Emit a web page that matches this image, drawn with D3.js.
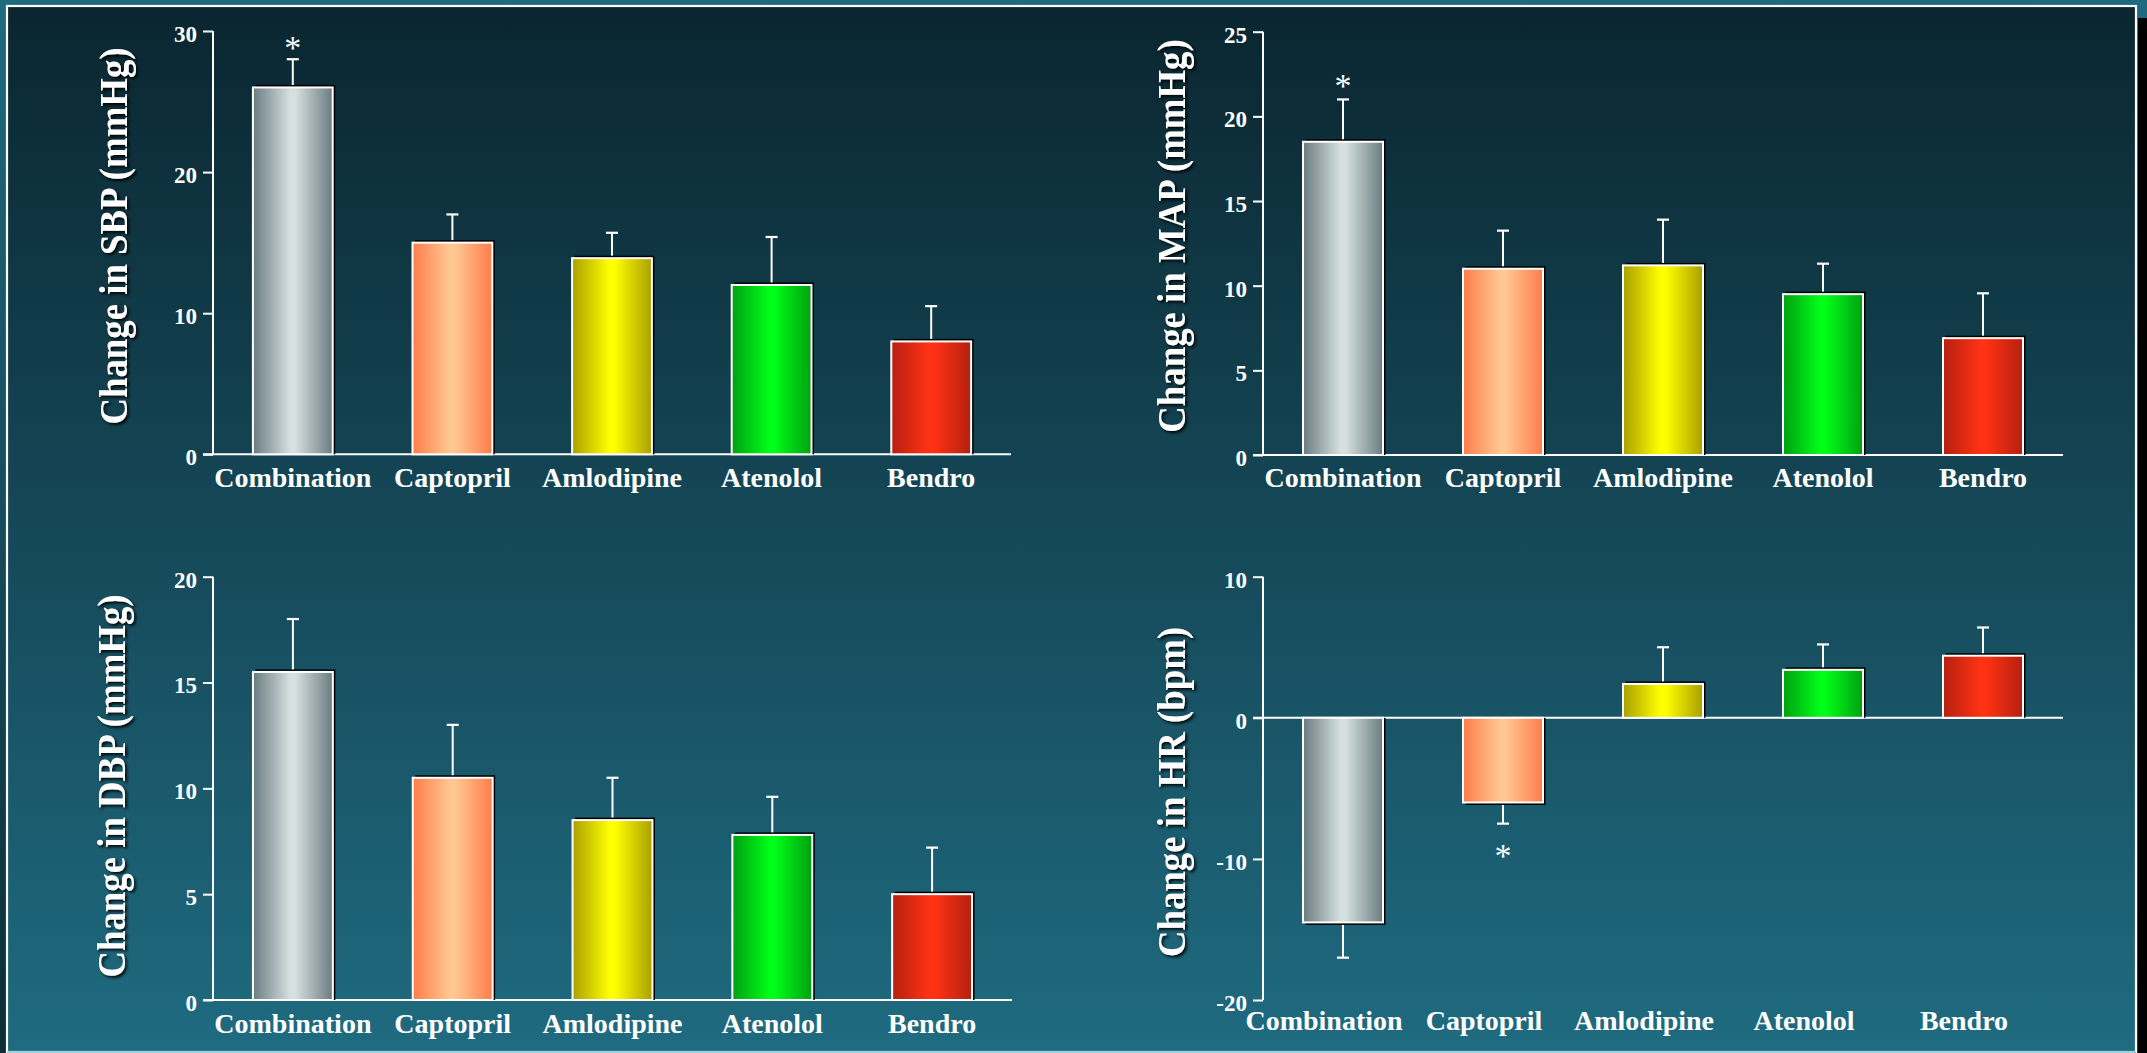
<!DOCTYPE html>
<html>
<head>
<meta charset="utf-8">
<script src="https://cdn.jsdelivr.net/npm/d3@7"></script>
<style>
  html, body { margin: 0; padding: 0; overflow: hidden; background: #0c2c35; }
  svg { display: block; }
  text { font-family: "Liberation Serif", "Times New Roman", serif; }
</style>
</head>
<body>
<svg id="chart" width="2147" height="1053"></svg>
<script>
// ---- data ----------------------------------------------------------------
const categories = ["Combination", "Captopril", "Amlodipine", "Atenolol", "Bendro"];

// mean change and SEM for each treatment
const sbpMean = [26, 15, 13.9, 12, 8];
const sbpSem  = [2, 2, 1.8, 3.4, 2.5];
const mapMean = [18.5, 11, 11.2, 9.5, 6.9];
const mapSem  = [2.5, 2.25, 2.7, 1.8, 2.65];
const dbpMean = [15.5, 10.5, 8.5, 7.8, 5.0];
const dbpSem  = [2.5, 2.5, 2.0, 1.8, 2.2];
const hrMean  = [-14.5, -6, 2.4, 3.4, 4.4];
const hrSem   = [2.5, 1.5, 2.6, 1.8, 2.0];

// axis ticks
const sbpTicks = [0, 10, 20, 30];
const mapTicks = [0, 5, 10, 15, 20, 25];
const dbpTicks = [0, 5, 10, 15, 20];
const hrTicks  = [-20, -10, 0, 10];

// significance markers: [category, y position in data units]
const sbpStars = [["Combination", 29.1]];
const mapStars = [["Combination", 22.05]];
const dbpStars = [];
const hrStars  = [["Captopril", -9.5]];

// bar colours: edge shade and centre highlight
const barEdge   = ["#6a7c81", "#ff7c4c", "#a9a000", "#00a010", "#b52010"];
const barCentre = ["#d6e0e0", "#ffc892", "#ffff00", "#00ff18", "#ff3214"];

// ---- drawing ---------------------------------------------------------------
const W = 2147, H = 1053;
const svg = d3.select("#chart");
const defs = svg.append("defs");

// page backdrop and framed panel
const outerGrad = defs.append("linearGradient").attr("id", "outerBg")
  .attr("x1", 0).attr("y1", 0).attr("x2", 0).attr("y2", 1);
outerGrad.append("stop").attr("offset", 0).attr("stop-color", "#1f6a7f");
outerGrad.append("stop").attr("offset", 1).attr("stop-color", "#0c2d36");

const innerGrad = defs.append("linearGradient").attr("id", "innerBg")
  .attr("x1", 0).attr("y1", 0).attr("x2", 0).attr("y2", 1);
innerGrad.append("stop").attr("offset", 0).attr("stop-color", "#0a2630");
innerGrad.append("stop").attr("offset", 0.5).attr("stop-color", "#154858");
innerGrad.append("stop").attr("offset", 1).attr("stop-color", "#1f6b80");

categories.forEach((c, i) => {
  const g = defs.append("linearGradient").attr("id", "bar" + i)
    .attr("x1", 0).attr("y1", 0).attr("x2", 1).attr("y2", 0);
  g.append("stop").attr("offset", 0).attr("stop-color", barEdge[i]);
  g.append("stop").attr("offset", 0.47).attr("stop-color", barCentre[i]);
  g.append("stop").attr("offset", 0.53).attr("stop-color", barCentre[i]);
  g.append("stop").attr("offset", 1).attr("stop-color", barEdge[i]);
});

const shadow = defs.append("filter").attr("id", "titleShadow")
  .attr("x", "-20%").attr("y", "-20%").attr("width", "140%").attr("height", "140%");
shadow.append("feDropShadow").attr("dx", 2).attr("dy", 2)
  .attr("stdDeviation", 1.4).attr("flood-color", "#000").attr("flood-opacity", 0.9);

svg.append("rect").attr("width", W).attr("height", H).attr("fill", "url(#outerBg)");
svg.append("rect").attr("x", 2138).attr("y", 18).attr("width", 9).attr("height", H - 18).attr("fill", "#000");
svg.append("rect").attr("x", 7).attr("y", 6).attr("width", 2129).attr("height", 1046)
  .attr("fill", "url(#innerBg)").attr("stroke", "#ffffff").attr("stroke-width", 2.2);
svg.append("line").attr("x1", 7).attr("x2", 2136).attr("y1", 1052).attr("y2", 1052)
  .attr("stroke", "#9fd0dc").attr("stroke-width", 2);

function drawPanel(cfg) {
  const { means, sems, ticks, stars, domain, xr, yr, title, titleX, titleY, labelY, labelShift } = cfg;
  const g = svg.append("g");

  const x = d3.scaleBand().domain(categories).range(xr).paddingInner(0.5).paddingOuter(0.25);
  const y = d3.scaleLinear().domain(domain).range(yr);

  // value axis (plain hyphen for negative numbers)
  const axis = d3.axisLeft(y).tickValues(ticks).tickSize(10).tickPadding(6).tickFormat(d => String(d));
  const ag = g.append("g").attr("transform", `translate(${xr[0]},0)`).call(axis);
  ag.select(".domain").attr("stroke", "#fff").attr("stroke-width", 2).attr("d", `M0,${yr[1]}V${yr[0]}`);
  ag.selectAll(".tick line").attr("stroke", "#fff").attr("stroke-width", 2);
  ag.selectAll(".tick text").attr("fill", "#fff").attr("font-size", 23).attr("font-weight", "bold")
    .attr("dy", "0.45em");

  // zero baseline
  g.append("line").attr("x1", xr[0] - 10).attr("x2", xr[1])
    .attr("y1", y(0)).attr("y2", y(0)).attr("stroke", "#fff").attr("stroke-width", 2);

  const rows = categories.map((c, i) => ({ c, i, v: means[i], s: sems[i] }));
  const bw = x.bandwidth();

  // error bars
  rows.forEach(d => {
    const end = d.v >= 0 ? d.v + d.s : d.v - d.s;
    const cx = x(d.c) + bw / 2;
    g.append("line").attr("x1", cx).attr("x2", cx).attr("y1", y(d.v)).attr("y2", y(end))
      .attr("stroke", "#fff").attr("stroke-width", 2);
    g.append("line").attr("x1", cx - 6).attr("x2", cx + 6).attr("y1", y(end)).attr("y2", y(end))
      .attr("stroke", "#fff").attr("stroke-width", 2.2);
  });

  // offset shadows behind the bars
  g.selectAll("rect.shade").data(rows).join("rect").attr("class", "shade")
    .attr("x", d => x(d.c) + 2.5)
    .attr("y", d => d.v >= 0 ? y(d.v) - 2.5 : y(0))
    .attr("width", bw)
    .attr("height", d => Math.abs(y(d.v) - y(0)) + 2.5)
    .attr("fill", "#000");

  // bars
  g.selectAll("rect.bar").data(rows).join("rect").attr("class", "bar")
    .attr("x", d => x(d.c))
    .attr("y", d => Math.min(y(d.v), y(0)))
    .attr("width", bw)
    .attr("height", d => Math.abs(y(d.v) - y(0)))
    .attr("fill", d => `url(#bar${d.i})`)
    .attr("stroke", "#fff").attr("stroke-width", 2);

  // significance markers
  stars.forEach(([c, v]) => {
    g.append("text").attr("x", x(c) + bw / 2).attr("y", y(v) + 15)
      .attr("text-anchor", "middle").attr("fill", "#fff").attr("font-size", 34)
      .text("*");
  });

  // category labels
  categories.forEach(c => {
    g.append("text").attr("x", x(c) + bw / 2 + labelShift).attr("y", labelY)
      .attr("text-anchor", "middle").attr("fill", "#fff").attr("font-size", 28)
      .attr("font-weight", "bold").text(c);
  });

  // axis title
  g.append("g").attr("filter", "url(#titleShadow)")
    .append("text")
    .attr("transform", `translate(${titleX},${titleY}) rotate(-90) scale(0.92,1)`)
    .attr("text-anchor", "middle").attr("fill", "#fff").attr("font-size", 40)
    .attr("font-weight", "bold").text(title);
}

drawPanel({ means: sbpMean, sems: sbpSem, ticks: sbpTicks, stars: sbpStars, domain: [0, 30],
  xr: [213, 1011], yr: [454.3, 31], title: "Change in SBP (mmHg)",
  titleX: 127, titleY: 236, labelY: 486.5, labelShift: 0 });
drawPanel({ means: mapMean, sems: mapSem, ticks: mapTicks, stars: mapStars, domain: [0, 25],
  xr: [1263, 2063], yr: [455, 31.7], title: "Change in MAP (mmHg)",
  titleX: 1185, titleY: 236, labelY: 486.5, labelShift: 0 });
drawPanel({ means: dbpMean, sems: dbpSem, ticks: dbpTicks, stars: dbpStars, domain: [0, 20],
  xr: [213, 1012], yr: [1000, 576.7], title: "Change in DBP (mmHg)",
  titleX: 125, titleY: 786, labelY: 1032.5, labelShift: 0 });
drawPanel({ means: hrMean, sems: hrSem, ticks: hrTicks, stars: hrStars, domain: [-20, 10],
  xr: [1263, 2063], yr: [1000, 576.7], title: "Change in HR (bpm)",
  titleX: 1185, titleY: 792, labelY: 1030, labelShift: -19 });
</script>
</body>
</html>
